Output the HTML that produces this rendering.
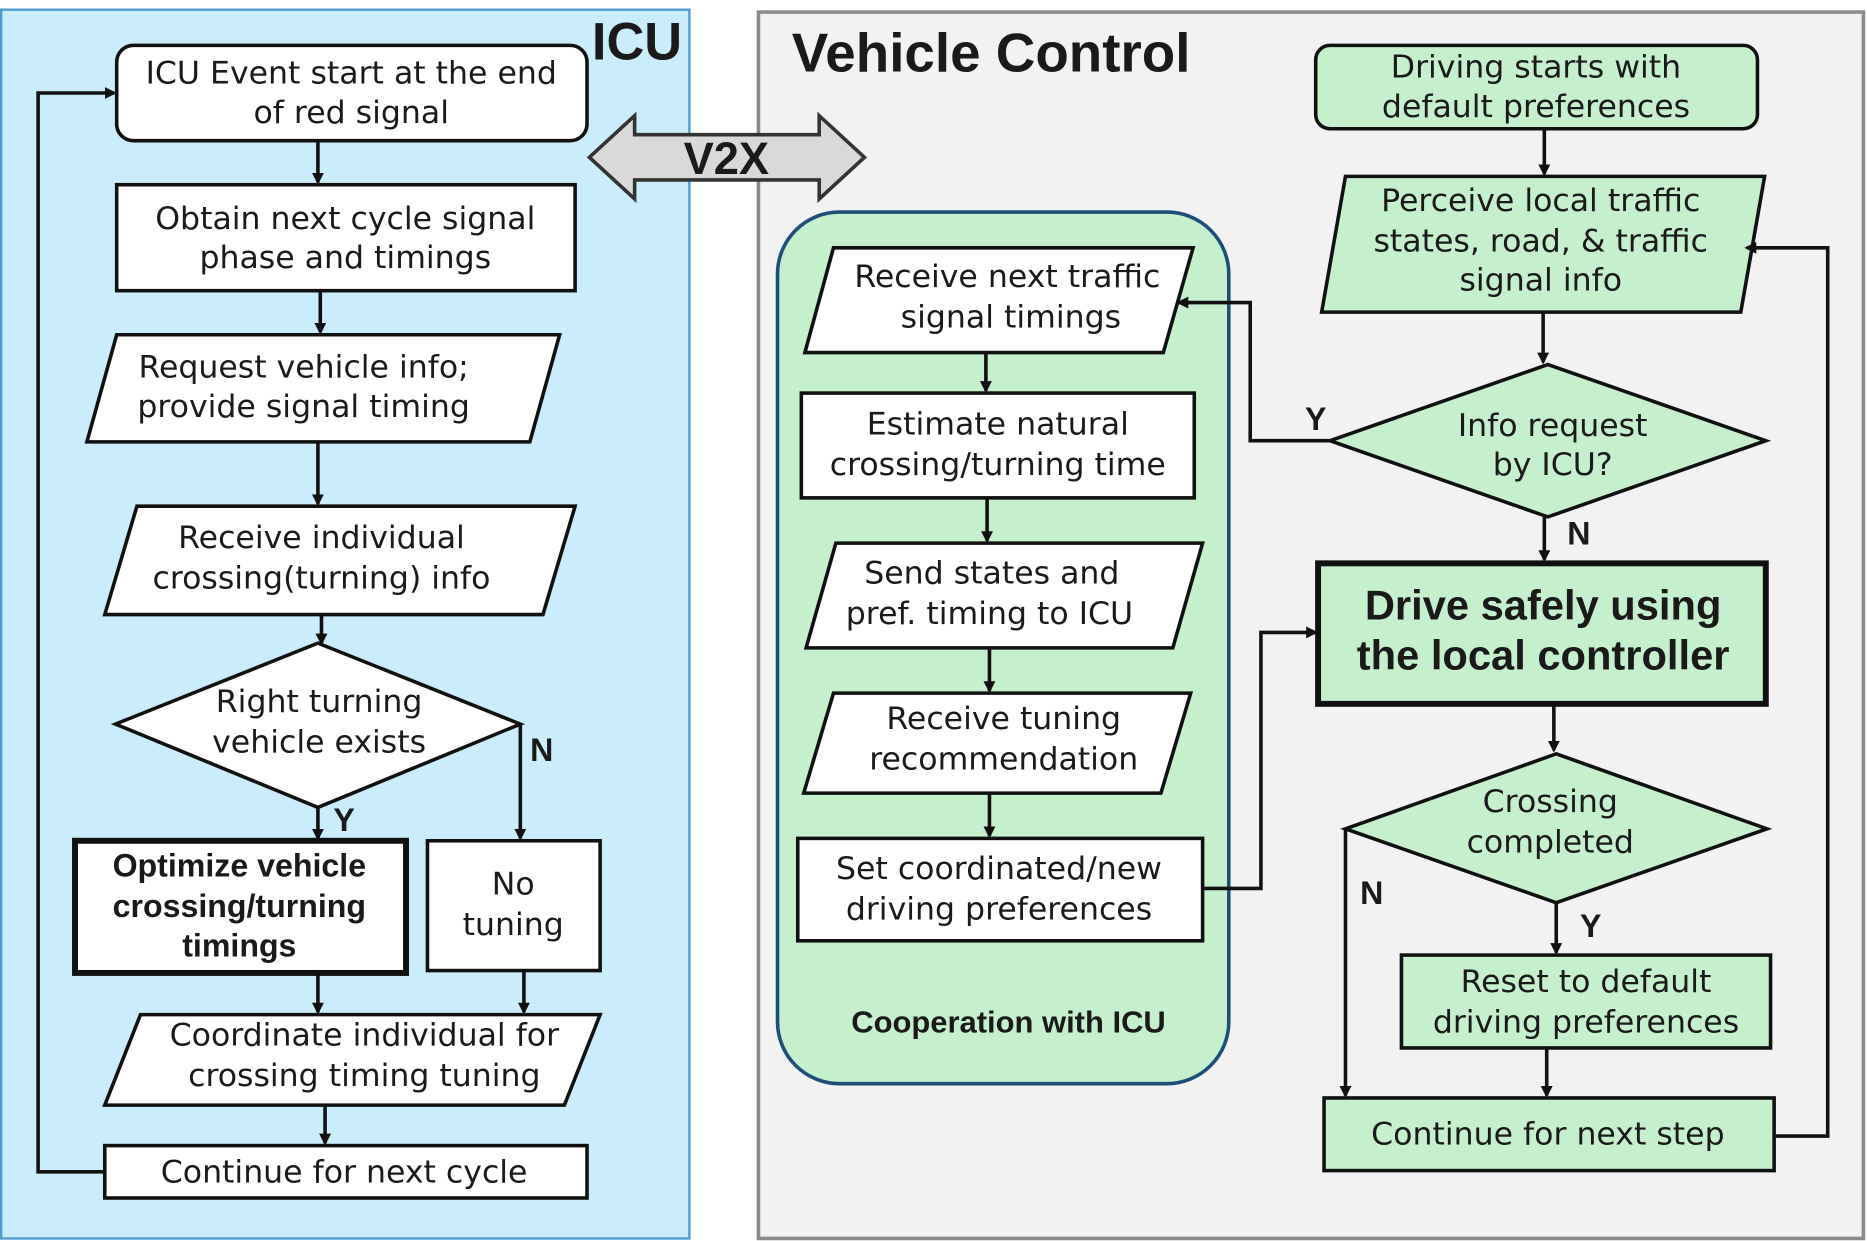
<!DOCTYPE html>
<html><head><meta charset="utf-8"><style>
html,body{margin:0;padding:0;background:#fff;}
svg{display:block;}
text{font-family:"Liberation Sans",sans-serif;fill:#1a1a1a;}
.r{font-family:"DejaVu Sans","Liberation Sans",sans-serif;font-size:26.5px;}
</style></head><body>
<svg width="1867" height="1241" viewBox="0 0 1568 1042" xmlns="http://www.w3.org/2000/svg">
<defs>
<marker id="a" markerWidth="10" markerHeight="10" refX="8" refY="5" orient="auto" markerUnits="userSpaceOnUse" viewBox="0 0 10 10">
<path d="M0,0 L10,5 L0,10 z" fill="#111"/></marker>
</defs>
<rect x="1" y="8" width="578" height="1032" fill="#cbecfa" stroke="#4f9bd0" stroke-width="2"/>
<rect x="637" y="10" width="928" height="1030" fill="#f2f2f2" stroke="#8a8a8a" stroke-width="3"/>
<text x="535" y="50" font-size="44" font-weight="bold" text-anchor="middle">ICU</text>
<text x="665" y="60" font-size="46" font-weight="bold">Vehicle Control</text>
<path d="M495,132 L533,97 L533,113 L688,113 L688,97 L726,132 L688,167 L688,151 L533,151 L533,167 Z" fill="#d9d9d9" stroke="#333" stroke-width="3"/>
<text x="610" y="146" font-size="38" font-weight="bold" text-anchor="middle">V2X</text>

<g stroke="#111" stroke-width="3" fill="#fff">
<rect x="98" y="38" width="395" height="80" rx="14"/>
<rect x="98" y="155" width="385" height="89"/>
<path d="M98,281 L470,281 L445,371 L73,371 Z"/>
<path d="M115,425 L483,425 L456,516 L88,516 Z"/>
<path d="M267,540 L437,608 L267,678 L97,608 Z"/>
<rect x="63" y="706" width="278" height="111" stroke-width="5"/>
<rect x="359" y="706" width="145" height="109"/>
<path d="M118,852 L504,852 L474,928 L88,928 Z"/>
<rect x="88" y="962" width="405" height="44"/>
</g>
<g stroke="#111" stroke-width="3" fill="none">
<line x1="267" y1="118" x2="267" y2="153" marker-end="url(#a)"/>
<line x1="269" y1="244" x2="269" y2="279" marker-end="url(#a)"/>
<line x1="267" y1="371" x2="267" y2="423" marker-end="url(#a)"/>
<line x1="270" y1="516" x2="270" y2="540" marker-end="url(#a)"/>
<line x1="267" y1="678" x2="267" y2="704" marker-end="url(#a)"/>
<polyline points="437,608 437,704" marker-end="url(#a)"/>
<line x1="267" y1="817" x2="267" y2="850" marker-end="url(#a)"/>
<line x1="440" y1="815" x2="440" y2="850" marker-end="url(#a)"/>
<line x1="273" y1="928" x2="273" y2="960" marker-end="url(#a)"/>
<polyline points="88,984 32,984 32,78 96,78" marker-end="url(#a)"/>
</g>
<g font-size="27" text-anchor="middle">
<text class="r" x="295" y="70">ICU Event start at the end</text><text class="r" x="295" y="103">of red signal</text>
<text class="r" x="290" y="192">Obtain next cycle signal</text><text class="r" x="290" y="225">phase and timings</text>
<text class="r" x="255" y="317">Request vehicle info;</text><text class="r" x="255" y="350">provide signal timing</text>
<text class="r" x="270" y="460">Receive individual</text><text class="r" x="270" y="494">crossing(turning) info</text>
<text class="r" x="268" y="598">Right turning</text><text class="r" x="268" y="632">vehicle exists</text>
<text x="201" y="736" font-weight="bold">Optimize vehicle</text>
<text x="201" y="770" font-weight="bold">crossing/turning</text>
<text x="201" y="803" font-weight="bold">timings</text>
<text class="r" x="431" y="751">No</text><text class="r" x="431" y="785">tuning</text>
<text class="r" x="306" y="878">Coordinate individual for</text><text class="r" x="306" y="912">crossing timing tuning</text>
<text class="r" x="289" y="993">Continue for next cycle</text>
<text x="289" y="698" font-weight="bold">Y</text>
<text x="455" y="639" font-weight="bold">N</text>
</g>

<rect x="653" y="178" width="379" height="732" rx="52" fill="#c6efce" stroke="#1f4e79" stroke-width="3"/>
<g stroke="#111" stroke-width="3" fill="#fff">
<path d="M700,208 L1002,208 L977,296 L676,296 Z"/>
<rect x="673" y="330" width="330" height="88"/>
<path d="M702,456 L1010,456 L985,544 L677,544 Z"/>
<path d="M700,582 L1000,582 L975,666 L675,666 Z"/>
<rect x="670" y="704" width="340" height="86"/>
</g>
<g stroke="#111" stroke-width="3" fill="#c6efce">
<rect x="1105" y="38" width="371" height="70" rx="12"/>
<path d="M1130,148 L1482,148 L1462,262 L1110,262 Z"/>
<path d="M1300,306 L1483,370 L1300,434 L1117,370 Z"/>
<rect x="1107" y="473" width="376" height="118" stroke-width="5"/>
<path d="M1307,633 L1484,696 L1307,758 L1130,696 Z"/>
<rect x="1177" y="802" width="310" height="78"/>
<rect x="1112" y="922" width="378" height="61"/>
</g>
<g stroke="#111" stroke-width="3" fill="none">
<line x1="828" y1="296" x2="828" y2="328" marker-end="url(#a)"/>
<line x1="829" y1="418" x2="829" y2="454" marker-end="url(#a)"/>
<line x1="831" y1="544" x2="831" y2="580" marker-end="url(#a)"/>
<line x1="831" y1="666" x2="831" y2="702" marker-end="url(#a)"/>
<polyline points="1010,746 1059,746 1059,531 1105,531" marker-end="url(#a)"/>
<line x1="1297" y1="108" x2="1297" y2="146" marker-end="url(#a)"/>
<line x1="1296" y1="262" x2="1296" y2="304" marker-end="url(#a)"/>
<polyline points="1117,370 1050,370 1050,254 990,254" marker-end="url(#a)"/>
<line x1="1297" y1="434" x2="1297" y2="470" marker-end="url(#a)"/>
<line x1="1305" y1="591" x2="1305" y2="630" marker-end="url(#a)"/>
<line x1="1307" y1="758" x2="1307" y2="800" marker-end="url(#a)"/>
<polyline points="1130,696 1130,920" marker-end="url(#a)"/>
<line x1="1299" y1="880" x2="1299" y2="920" marker-end="url(#a)"/>
<polyline points="1490,954 1535,954 1535,208 1467,208" marker-end="url(#a)"/>
</g>
<g font-size="27" text-anchor="middle">
<text class="r" x="846" y="241">Receive next traffic</text><text class="r" x="849" y="275">signal timings</text>
<text class="r" x="838" y="365">Estimate natural</text><text class="r" x="838" y="399">crossing/turning time</text>
<text class="r" x="833" y="490">Send states and</text><text class="r" x="831" y="524">pref. timing to ICU</text>
<text class="r" x="843" y="612">Receive tuning</text><text class="r" x="843" y="646">recommendation</text>
<text class="r" x="839" y="738">Set coordinated/new</text><text class="r" x="839" y="772">driving preferences</text>
<text x="847" y="867" font-size="26" font-weight="bold">Cooperation with ICU</text>
<text class="r" x="1290" y="65">Driving starts with</text><text class="r" x="1290" y="98">default preferences</text>
<text class="r" x="1294" y="177">Perceive local traffic</text><text class="r" x="1294" y="211">states, road, &amp; traffic</text><text class="r" x="1294" y="244">signal info</text>
<text class="r" x="1304" y="366">Info request</text><text class="r" x="1304" y="399">by ICU?</text>
<text x="1296" y="520" font-size="35" font-weight="bold">Drive safely using</text>
<text x="1296" y="562" font-size="35" font-weight="bold">the local controller</text>
<text class="r" x="1302" y="682">Crossing</text><text class="r" x="1302" y="716">completed</text>
<text class="r" x="1332" y="833">Reset to default</text><text class="r" x="1332" y="867">driving preferences</text>
<text class="r" x="1300" y="961">Continue for next step</text>
<text x="1105" y="361" font-weight="bold">Y</text>
<text x="1326" y="457" font-weight="bold">N</text>
<text x="1336" y="787" font-weight="bold">Y</text>
<text x="1152" y="759" font-weight="bold">N</text>
</g>
</svg>
</body></html>
